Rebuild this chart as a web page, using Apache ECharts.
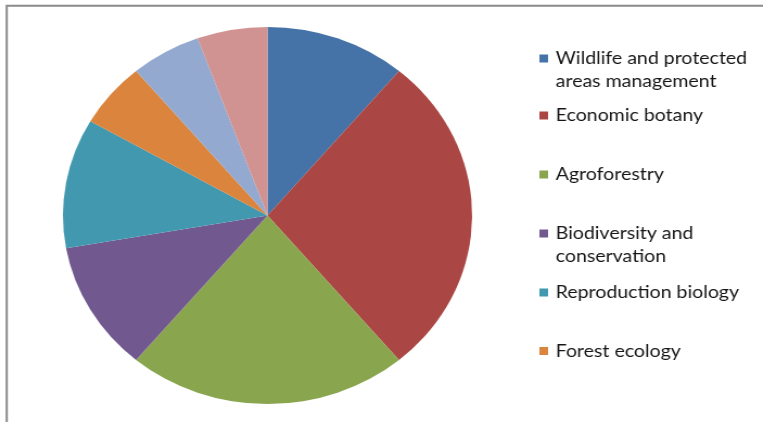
<!DOCTYPE html>
<html>
<head>
<meta charset="utf-8">
<script src="https://cdn.jsdelivr.net/npm/echarts@6/dist/echarts.min.js"></script>
<style>
  html, body { margin: 0; padding: 0; background: #fff; overflow: hidden; }
  #wrap { width: 763px; height: 422px; overflow: hidden; }
  /* chart is laid out narrower and stretched horizontally to the page width */
  #chart { width: 703px; height: 422px; transform: scaleX(1.0853); transform-origin: 0 0; }
</style>
</head>
<body>
<div id="wrap"><div id="chart"></div></div>
<script>
// Research areas and number of studies in each
const categories = [
  'Wildlife and protected\nareas management',
  'Economic botany',
  'Agroforestry',
  'Biodiversity and\nconservation',
  'Reproduction biology',
  'Forest ecology',
  'Forest management',
  'Ethnobotany'
];
const counts = [2, 5, 4, 2, 2, 1, 1, 1];
const colors = ['#4572A7', '#AA4643', '#89A54E', '#71588F', '#4198AF', '#DB843D', '#93A9CF', '#D19392'];

// Legend rows shown beside the pie (marker centre y for each row)
const legendRows = [0, 1, 2, 3, 4, 5];
const legendMarkerY = [57.5, 115.5, 174.5, 232.5, 292.5, 351];

const chart = echarts.init(document.getElementById('chart'), null, { renderer: 'canvas' });

const fontFamily = 'Lato, "Open Sans", sans-serif';
const lineH = 23;

const legends = legendRows.map((idx, i) => {
  const name = categories[idx];
  const multi = name.indexOf('\n') >= 0;
  return {
    orient: 'vertical',
    left: 497,
    top: legendMarkerY[i] - (multi ? 33.5 : 11.5),
    padding: 0,
    itemWidth: 8,
    itemHeight: 8,
    icon: 'rect',
    selectedMode: false,
    // a leading empty line keeps the marker level with the first line of a wrapped label
    formatter: (n) => (n.indexOf('\n') >= 0 ? '\n' + n : n),
    textStyle: {
      fontFamily: fontFamily,
      fontSize: 18,
      lineHeight: lineH,
      color: '#161616',
      padding: [0, 0, 0, 2]
    },
    data: [name]
  };
});

chart.setOption({
  animation: false,
  color: colors,
  legend: legends,
  graphic: [
    {
      type: 'polyline',
      silent: true,
      shape: { points: [[6.2, 422], [6.2, 5.7], [703, 5.7]] },
      style: { stroke: '#8a8a8a', lineWidth: 2, fill: null }
    }
  ],
  series: [{
    type: 'pie',
    center: [246.5, 215.5],
    radius: 188.5,
    startAngle: 90,
    clockwise: true,
    label: { show: false },
    labelLine: { show: false },
    emphasis: { disabled: true },
    itemStyle: { borderWidth: 0 },
    data: categories.map((c, i) => ({ name: c, value: counts[i] }))
  }]
});
</script>
</body>
</html>
